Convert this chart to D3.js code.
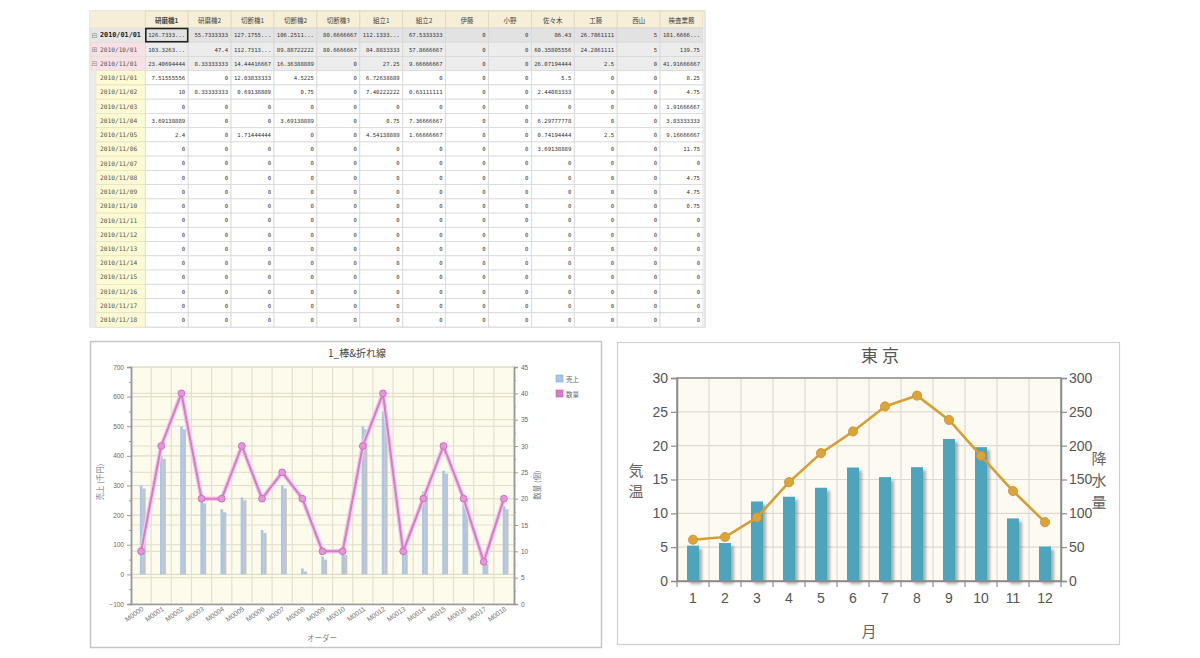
<!DOCTYPE html>
<html><head><meta charset="utf-8">
<script src="https://cdn.jsdelivr.net/npm/d3@7"></script>
<style>body{margin:0;background:#fff;} svg{display:block}</style>
</head><body>
<svg id="c" width="1200" height="658"></svg>
<script>
// ---------- table data ----------
const tableColumns = ["研磨機1","研磨機2","切断機1","切断機2","切断機3","組立1","組立2","伊藤","小野","佐々木","工藤","西山","検査業務"];
const rowLabels = ["2010/01/01","2010/10/01","2010/11/01","2010/11/01","2010/11/02","2010/11/03","2010/11/04","2010/11/05","2010/11/06","2010/11/07","2010/11/08","2010/11/09","2010/11/10","2010/11/11","2010/11/12","2010/11/13","2010/11/14","2010/11/15","2010/11/16","2010/11/17","2010/11/18"];
const rowLevels = [0,1,1,2,2,2,2,2,2,2,2,2,2,2,2,2,2,2,2,2,2];
const rowIcons = ["⊟","⊞","⊟","","","","","","","","","","","","","","","","","",""];
const cellValues = [
 ["126.7333...","55.7333333","127.1755...","106.2511...","80.6666667","112.1333...","67.5333333","0","0","86.43","26.7861111","5","181.6666..."],
 ["103.3263...","47.4","112.7313...","89.88722222","80.6666667","84.8833333","57.8666667","0","0","60.35805556","24.2861111","5","139.75"],
 ["23.40694444","8.33333333","14.44416667","16.36388889","0","27.25","9.66666667","0","0","26.07194444","2.5","0","41.91666667"],
 ["7.51555556","0","12.03833333","4.5225","0","6.72638889","0","0","0","5.5","0","0","8.25"],
 ["10","8.33333333","0.69138889","0.75","0","7.40222222","0.63111111","0","0","2.44083333","0","0","4.75"],
 ["0","0","0","0","0","0","0","0","0","0","0","0","1.91666667"],
 ["3.69138889","0","0","3.69138889","0","0.75","7.36666667","0","0","6.29777778","0","0","3.83333333"],
 ["2.4","0","1.71444444","0","0","4.54138889","1.66666667","0","0","0.74194444","2.5","0","9.16666667"],
 ["0","0","0","0","0","0","0","0","0","3.69138889","0","0","11.75"],
 ["0","0","0","0","0","0","0","0","0","0","0","0","0"],
 ["0","0","0","0","0","0","0","0","0","0","0","0","4.75"],
 ["0","0","0","0","0","0","0","0","0","0","0","0","4.75"],
 ["0","0","0","0","0","0","0","0","0","0","0","0","0.75"],
 ["0","0","0","0","0","0","0","0","0","0","0","0","0"],
 ["0","0","0","0","0","0","0","0","0","0","0","0","0"],
 ["0","0","0","0","0","0","0","0","0","0","0","0","0"],
 ["0","0","0","0","0","0","0","0","0","0","0","0","0"],
 ["0","0","0","0","0","0","0","0","0","0","0","0","0"],
 ["0","0","0","0","0","0","0","0","0","0","0","0","0"],
 ["0","0","0","0","0","0","0","0","0","0","0","0","0"],
 ["0","0","0","0","0","0","0","0","0","0","0","0","0"]
];

// ---------- left chart data ----------
const orderCats = ["M0000","M0001","M0002","M0003","M0004","M0005","M0006","M0007","M0008","M0009","M0010","M0011","M0012","M0013","M0014","M0015","M0016","M0017","M0018"];
const salesValues = [300,400,500,250,220,260,150,300,20,60,75,500,550,90,280,350,265,45,230];
const qtyValues = [10,30,40,20,20,30,20,25,20,10,10,30,40,10,20,30,20,8,20];
const salesTicks = [-100,0,100,200,300,400,500,600,700];
const qtyTicks = [0,5,10,15,20,25,30,35,40,45];
const legendLabels = ["売上","数量"];

// ---------- right chart data ----------
const months = [1,2,3,4,5,6,7,8,9,10,11,12];
const precipValues = [52.3,56.1,117.5,124.5,137.8,167.7,153.5,168.2,209.9,197.8,92.5,51.0];
const tempValues = [6.1,6.5,9.4,14.6,18.9,22.1,25.8,27.4,23.8,18.5,13.3,8.7];
const tempTicks = [0,5,10,15,20,25,30];
const precipTicks = [0,50,100,150,200,250,300];

const svg = d3.select("#c");
svg.append("rect").attr("width",1200).attr("height",658).attr("fill","#fff");
const defs = svg.append("defs");
const f = defs.append("filter").attr("id","shadow").attr("x","-50%").attr("y","-20%").attr("width","200%").attr("height","150%");
f.append("feDropShadow").attr("dx",3).attr("dy",3).attr("stdDeviation",1.4).attr("flood-color","#777").attr("flood-opacity",0.6);

// ================= TABLE =================
(function(){
  const g = svg.append("g");
  const x0 = 90, firstRight = 145.3;
  const xc = d3.scaleBand().domain(tableColumns).range([firstRight, 703]);
  const yr = d3.scaleBand().domain(d3.range(rowLabels.length)).range([28, 327]);
  const hTop = 11;
  g.append("rect").attr("x",x0).attr("y",hTop).attr("width",615).attr("height",316).attr("fill","#fff").attr("stroke","#cfcfcf");
  g.append("rect").attr("x",x0).attr("y",hTop).attr("width",613).attr("height",28-hTop).attr("fill","#f6eed6");
  g.selectAll(".hc").data(tableColumns).join("rect")
    .attr("x",d=>xc(d)).attr("y",hTop).attr("width",xc.bandwidth()).attr("height",28-hTop)
    .attr("fill","#f6eed6").attr("stroke","#dcd6c4").attr("stroke-width",0.8);
  g.selectAll(".ht").data(tableColumns).join("text")
    .attr("x",d=>xc(d)+xc.bandwidth()/2).attr("y",22.5).attr("text-anchor","middle")
    .attr("font-family","Noto Sans CJK JP").attr("font-size",6.5).attr("fill","#444")
    .attr("font-weight",(d,i)=>i===0?"bold":"normal").text(d=>d);
  rowLabels.forEach((lab,i)=>{
    const y = yr(i), h = yr.bandwidth();
    const lvl = rowLevels[i];
    const rowBg = lvl===0 ? "#e2e2e2" : (lvl===1 ? "#ececec" : "#fff");
    const headBg = lvl===0 ? "#e6e6e6" : (lvl===1 ? "#f7e1e6" : "#fdfbd2");
    g.append("rect").attr("x",x0).attr("y",y).attr("width",firstRight-x0).attr("height",h).attr("fill",lvl===2?"#ececec":headBg);
    const hx = lvl===0?x0:(lvl===1?x0+1:x0+6);
    g.append("rect").attr("x",hx).attr("y",y).attr("width",firstRight-hx).attr("height",h).attr("fill",headBg).attr("stroke","#e0dcc8").attr("stroke-width",0.6);
    if (rowIcons[i]) {
      g.append("text").attr("x",x0+1.5).attr("y",y+h/2+2.5).attr("font-size",7).attr("fill","#888").attr("font-family","DejaVu Sans").text(rowIcons[i]);
    }
    g.append("text").attr("x",x0+10).attr("y",y+h/2+2.3)
      .attr("font-family","DejaVu Sans Mono").attr("font-size",lvl===0?6.8:6.2)
      .attr("font-weight",lvl===0?"bold":"normal").attr("fill",lvl===0?"#222":"#555").text(lab);
    g.selectAll(null).data(cellValues[i]).join("rect")
      .attr("x",(d,j)=>xc(tableColumns[j])).attr("y",y).attr("width",xc.bandwidth()).attr("height",h)
      .attr("fill",rowBg).attr("stroke","#d8d8d8").attr("stroke-width",0.8);
    g.selectAll(null).data(cellValues[i]).join("text")
      .attr("x",(d,j)=>xc(tableColumns[j])+xc.bandwidth()-3).attr("y",y+h/2+2.2).attr("text-anchor","end")
      .attr("font-family","DejaVu Sans Mono").attr("font-size",5.6).attr("fill","#333").text(d=>d);
  });
  g.append("rect").attr("x",xc(tableColumns[0])+0.5).attr("y",yr(0)+0.5).attr("width",xc.bandwidth()-1).attr("height",yr.bandwidth()-1)
    .attr("fill","none").attr("stroke","#222").attr("stroke-width",1.6);
})();

// ================= LEFT CHART =================
(function(){
  const g = svg.append("g");
  g.append("rect").attr("x",90.5).attr("y",341.5).attr("width",511).attr("height",306).attr("fill","#fff").attr("stroke","#c6c6c6").attr("stroke-width",1.5);
  const L=131, R=514, T=367, B=604;
  const x = d3.scaleBand().domain(orderCats).range([L,R]);
  const yL = d3.scaleLinear().domain([-100,700]).range([B,T]);
  const yR = d3.scaleLinear().domain([0,45]).range([B,T]);
  g.append("rect").attr("x",L).attr("y",T).attr("width",R-L).attr("height",B-T).attr("fill","#fdfbec");
  g.selectAll(null).data(qtyTicks).join("line").attr("x1",L).attr("x2",R).attr("y1",d=>yR(d)).attr("y2",d=>yR(d)).attr("stroke","#e6e0cc").attr("stroke-width",1.2);
  g.selectAll(null).data(salesTicks).join("line").attr("x1",L).attr("x2",R).attr("y1",d=>yL(d)).attr("y2",d=>yL(d)).attr("stroke","#e0dccc").attr("stroke-width",1.2);
  g.selectAll(null).data(orderCats.slice(1)).join("line").attr("x1",d=>x(d)).attr("x2",d=>x(d)).attr("y1",T).attr("y2",B).attr("stroke","#e4e0d0").attr("stroke-width",1.2);
  const axL = g.append("g").attr("transform",`translate(${L},0)`).call(d3.axisLeft(yL).tickValues(salesTicks).tickSize(4).tickFormat(d3.format("d")));
  const axLm = g.append("g").attr("transform",`translate(${L},0)`).call(d3.axisLeft(yL).tickValues(d3.range(-50,700,100)).tickSize(2).tickFormat(""));
  const axR = g.append("g").attr("transform",`translate(${R},0)`).call(d3.axisRight(yR).tickValues(qtyTicks).tickSize(4));
  const axRm = g.append("g").attr("transform",`translate(${R},0)`).call(d3.axisRight(yR).tickValues(d3.range(2.5,45,5)).tickSize(2).tickFormat(""));
  const axB = g.append("g").attr("transform",`translate(0,${B})`).call(d3.axisBottom(x).tickSize(0).tickFormat(""));
  [axL,axLm,axR,axRm,axB].forEach(a=>{
    a.selectAll("path").attr("stroke","#9a9a9a").attr("stroke-width",1.5);
    a.selectAll("line").attr("stroke","#9a9a9a");
    a.selectAll("text").attr("font-family","Liberation Sans").attr("font-size",6.5).attr("fill","#666");
  });
  const bg = g.append("g");
  bg.selectAll(".sh").data(salesValues).join("rect")
    .attr("x",(d,i)=>x(orderCats[i])+x.bandwidth()/2+1.3).attr("y",d=>yL(d)+3)
    .attr("width",3.3).attr("height",d=>yL(0)-yL(d)-3).attr("fill","#c4c4c4");
  bg.selectAll(".bb").data(salesValues).join("rect")
    .attr("x",(d,i)=>x(orderCats[i])+x.bandwidth()/2-1.2).attr("y",d=>yL(d))
    .attr("width",2.6).attr("height",d=>yL(0)-yL(d)).attr("fill","#a6c6ea");
  const line = d3.line().x((d,i)=>x(orderCats[i])+x.bandwidth()/2).y(d=>yR(d));
  g.append("path").datum(qtyValues).attr("d",line).attr("fill","none").attr("stroke","#f2c8ea").attr("stroke-width",4.5).attr("stroke-linejoin","round");
  g.append("path").datum(qtyValues).attr("d",line).attr("fill","none").attr("stroke","#d77ac8").attr("stroke-width",2).attr("stroke-linejoin","round");
  g.selectAll(".pt").data(qtyValues).join("circle")
    .attr("cx",(d,i)=>x(orderCats[i])+x.bandwidth()/2).attr("cy",d=>yR(d)).attr("r",3.4)
    .attr("fill","#e596da").attr("stroke","#d070c0").attr("stroke-width",1);
  g.selectAll(".xl").data(orderCats).join("text")
    .attr("transform",d=>`translate(${x(d)+x.bandwidth()/2+3},${B+6}) rotate(-35)`)
    .attr("text-anchor","end").attr("font-family","Liberation Sans").attr("font-size",6.8).attr("fill","#777").text(d=>d);
  g.append("text").attr("x",357).attr("y",357).attr("text-anchor","middle").attr("font-family","Noto Sans CJK JP").attr("font-size",10).attr("fill","#444").text("1_棒&折れ線");
  g.append("text").attr("transform","translate(103,482) rotate(-90)").attr("text-anchor","middle").attr("font-family","Noto Sans CJK JP").attr("font-size",7.5).attr("fill","#777").text("売上 (千円)");
  g.append("text").attr("transform","translate(540,485) rotate(-90)").attr("text-anchor","middle").attr("font-family","Noto Sans CJK JP").attr("font-size",7.5).attr("fill","#777").text("数量 (個)");
  g.append("text").attr("x",322).attr("y",641).attr("text-anchor","middle").attr("font-family","Noto Sans CJK JP").attr("font-size",7.5).attr("fill","#888").text("オーダー");
  const lg = g.append("g");
  const lc = ["#a6c6ea","#d77ac8"];
  legendLabels.forEach((t,i)=>{
    lg.append("rect").attr("x",556).attr("y",375+i*15).attr("width",7).attr("height",7).attr("fill",lc[i]).attr("stroke",i?"#c060b0":"#88a8d0").attr("stroke-width",0.6);
    lg.append("text").attr("x",566).attr("y",381.5+i*15).attr("font-family","Noto Sans CJK JP").attr("font-size",6.5).attr("fill","#666").text(t);
  });
})();

// ================= RIGHT CHART =================
(function(){
  const g = svg.append("g");
  g.append("rect").attr("x",617.5).attr("y",342.5).attr("width",502).attr("height",302).attr("fill","#fff").attr("stroke","#cfcfcf").attr("stroke-width",1.2);
  const L=677, R=1061, T=378, B=581;
  const x = d3.scaleBand().domain(months).range([L,R]);
  const yT = d3.scaleLinear().domain([0,30]).range([B,T]);
  const yP = d3.scaleLinear().domain([0,300]).range([B,T]);
  g.append("rect").attr("x",L).attr("y",T).attr("width",R-L).attr("height",B-T).attr("fill","#fdfbf1");
  g.selectAll(null).data(tempTicks).join("line").attr("x1",L).attr("x2",R).attr("y1",d=>yT(d)).attr("y2",d=>yT(d)).attr("stroke","#dcdad2").attr("stroke-width",1.2);
  g.selectAll(null).data(months.slice(1)).join("line").attr("x1",d=>x(d)).attr("x2",d=>x(d)).attr("y1",T).attr("y2",B).attr("stroke","#dcdad2").attr("stroke-width",1.2);
  g.selectAll(".pb").data(precipValues).join("rect")
    .attr("x",(d,i)=>x(months[i])+x.bandwidth()/2-6).attr("y",d=>yP(d))
    .attr("width",12).attr("height",d=>B-yP(d)).attr("fill","#4ba5bf").attr("filter","url(#shadow)");
  g.append("rect").attr("x",L).attr("y",T).attr("width",R-L).attr("height",B-T).attr("fill","none").attr("stroke","#8c8c8c").attr("stroke-width",1.5);
  const axL = g.append("g").attr("transform",`translate(${L},0)`).call(d3.axisLeft(yT).tickValues(tempTicks).tickSize(6).tickPadding(3));
  const axR = g.append("g").attr("transform",`translate(${R},0)`).call(d3.axisRight(yP).tickValues(precipTicks).tickSize(6).tickPadding(2));
  const axB = g.append("g").attr("transform",`translate(0,${B})`).call(d3.axisBottom(x).tickSize(0).tickPadding(12));
  g.selectAll(null).data(months.concat([13])).join("line")
    .attr("x1",(d,i)=>L+i*x.step()).attr("x2",(d,i)=>L+i*x.step()).attr("y1",B).attr("y2",B+6).attr("stroke","#8c8c8c").attr("stroke-width",1.2);
  [axL,axR,axB].forEach(a=>{
    a.selectAll("path").attr("stroke","#8c8c8c").attr("stroke-width",1.5);
    a.selectAll("line").attr("stroke","#8c8c8c").attr("stroke-width",1.2);
    a.selectAll("text").attr("font-family","Liberation Sans").attr("font-size",14).attr("fill","#555");
  });
  const line = d3.line().x((d,i)=>x(months[i])+x.bandwidth()/2).y(d=>yT(d));
  g.append("path").datum(tempValues).attr("d",line).attr("fill","none").attr("stroke","#d69f32").attr("stroke-width",2.6).attr("stroke-linejoin","round");
  g.selectAll(".tp").data(tempValues).join("circle")
    .attr("cx",(d,i)=>x(months[i])+x.bandwidth()/2).attr("cy",d=>yT(d)).attr("r",4.6)
    .attr("fill","#dca33a").attr("stroke","#c99230").attr("stroke-width",0.8);
  g.append("text").attr("x",882).attr("y",362).attr("text-anchor","middle").attr("font-family","Noto Sans CJK JP").attr("font-size",17).attr("letter-spacing",4).attr("fill","#555").text("東京");
  ["気","温"].forEach((c,i)=>g.append("text").attr("x",636).attr("y",476+i*21).attr("text-anchor","middle").attr("font-family","Noto Sans CJK JP").attr("font-size",15).attr("fill","#666").text(c));
  ["降","水","量"].forEach((c,i)=>g.append("text").attr("x",1099).attr("y",464+i*22).attr("text-anchor","middle").attr("font-family","Noto Sans CJK JP").attr("font-size",15).attr("fill","#666").text(c));
  g.append("text").attr("x",869).attr("y",637).attr("text-anchor","middle").attr("font-family","Noto Sans CJK JP").attr("font-size",15).attr("fill","#666").text("月");
})();
</script>
</body></html>
